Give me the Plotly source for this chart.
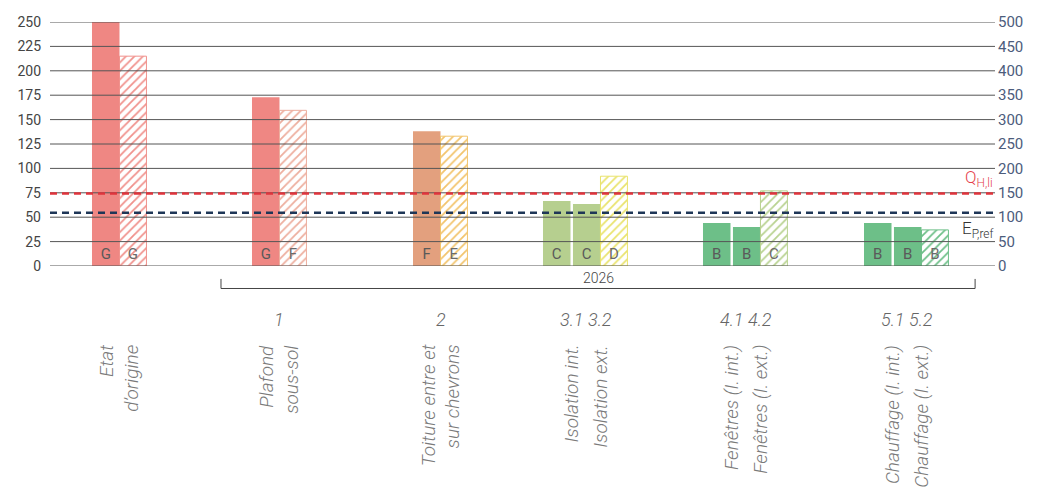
import plotly.graph_objects as go

# ---------------- data ----------------
heat_demand = [250, 173, 138, 66.5, 63.5, 44, 40, 44, 40]        # left axis, solid bars
heat_class = ["G", "G", "F", "C", "C", "B", "B", "B", "B"]
heat_group = [0, 1, 2, 3, 3, 4, 4, 5, 5]
primary_energy = [430, 319, 266, 184, 154, 74]                    # right axis, hatched bars
energy_class = ["G", "F", "E", "D", "C", "B"]
step_labels = ["", "1", "2", "3.1", "3.2", "4.1", "4.2", "5.1", "5.2"]
measure_labels = ["Etat<br>d’origine", "Plafond<br>sous-sol", "Toiture entre et<br>sur chevrons",
                  "Isolation int.", "Isolation ext.", "Fenêtres (I. int.)", "Fenêtres (I. ext.)",
                  "Chauffage (I. int.)", "Chauffage (I. ext.)"]
qh_li = 74.3      # left axis
ep_ref = 109      # right axis
left_ticks = list(range(0, 251, 25))
right_ticks = list(range(0, 501, 50))
period_label = "2026"

# ---------------- styles ----------------
heat_colors = ["#EF8783", "#EF8783", "#E3A07E", "#B6CF8F", "#B6CF8F",
               "#6DBF88", "#6DBF88", "#6DBF88", "#6DBF88"]
energy_colors = ["#F0918C", "#EDAE9E", "#F2C46C", "#E9E36C", "#B8D290", "#6DBF88"]
FONT = "Roboto, Arial, sans-serif"

# layout of groups (axis units)
group_left = [1.527, 7.345, 13.2, 17.927, 23.745, 29.6]
solid_w, hatch_w, solid_step = 1.0, 0.98, 1.09
n_groups = len(group_left)
n_solid = [heat_group.count(g) for g in range(n_groups)]

solid_x = []
counter = {}
for g in heat_group:
    k = counter.get(g, 0)
    counter[g] = k + 1
    solid_x.append(group_left[g] + k * solid_step + solid_w / 2)
hatch_left = [group_left[g] + (n_solid[g] - 1) * solid_step + solid_w for g in range(n_groups)]
hatch_x = [hl + hatch_w / 2 for hl in hatch_left]

boundaries = []
for g in range(n_groups):
    for k in range(n_solid[g]):
        if k < n_solid[g] - 1:
            boundaries.append(group_left[g] + k * solid_step + (solid_w + solid_step) / 2)
        else:
            boundaries.append(hatch_left[g])

fig = go.Figure()
fig.add_trace(go.Bar(
    x=solid_x, y=heat_demand, width=solid_w, text=heat_class,
    marker=dict(color=heat_colors, line=dict(width=0)),
    textposition="inside", insidetextanchor="start", textangle=0,
    insidetextfont=dict(family=FONT, size=15, color="#5a5a5a"),
    yaxis="y", showlegend=False, hoverinfo="skip",
))
fig.add_trace(go.Bar(
    x=hatch_x, y=primary_energy, width=hatch_w, text=energy_class,
    marker=dict(color=energy_colors, line=dict(width=1, color=energy_colors),
                pattern=dict(shape="/", size=6, solidity=0.3, fgcolor=energy_colors,
                             bgcolor="white", fillmode="replace")),
    textposition="inside", insidetextanchor="start", textangle=0,
    insidetextfont=dict(family=FONT, size=15, color="#6a6a6a"),
    yaxis="y2", showlegend=False, hoverinfo="skip",
))

shapes = []
for t in left_ticks:
    shapes.append(dict(type="line", xref="paper", x0=0, x1=1, yref="y", y0=t, y1=t,
                       line=dict(color="#555555", width=1), layer="above"))
shapes.append(dict(type="line", xref="paper", x0=0, x1=1, yref="y", y0=qh_li, y1=qh_li,
                   line=dict(color="#E0343C", width=2.5, dash="7px,5px"), layer="above"))
shapes.append(dict(type="line", xref="paper", x0=0, x1=1, yref="y2", y0=ep_ref, y1=ep_ref,
                   line=dict(color="#1E3657", width=2.5, dash="7px,5px"), layer="above"))
# period bracket
bx0 = group_left[1] - 1.127
bx1 = hatch_left[-1] + hatch_w + 0.97
shapes.append(dict(type="path", xref="x", yref="paper",
                   path=f"M {bx0},-0.053 L {bx0},-0.0922 L {bx1},-0.0922 L {bx1},-0.053",
                   line=dict(color="#444444", width=1)))

annotations = [dict(x=(bx0 + bx1) / 2, y=-0.0922, xref="x", yref="paper", text=period_label,
                    showarrow=False, xanchor="center", yanchor="bottom",
                    font=dict(family=FONT, size=14, color="#444444", weight=300))]
for bx, s in zip(boundaries, step_labels):
    if s:
        annotations.append(dict(x=bx, y=-0.221, xref="x", yref="paper", text=s, showarrow=False,
                                xanchor="center", yanchor="middle",
                                font=dict(family=FONT, size=18, color="#666666",
                                          style="italic", weight=300)))
for bx, s in zip(boundaries, measure_labels):
    annotations.append(dict(x=bx, y=-0.315, xref="x", yref="paper", text=s, showarrow=False,
                            textangle=-90, xanchor="center", yanchor="top", align="right",
                            font=dict(family=FONT, size=19, color="#7a7a7a",
                                      style="italic", weight=300)))
annotations.append(dict(x=1, y=qh_li, xref="paper", yref="y", xanchor="right", yanchor="bottom",
                        yshift=1, showarrow=False, text="Q<sub>H,li</sub>",
                        font=dict(family=FONT, size=17, color="#E5404A", weight=300)))
annotations.append(dict(x=1, y=ep_ref, xref="paper", yref="y2", xanchor="right", yanchor="top",
                        yshift=-3, showarrow=False, text="E<sub>P,ref</sub>",
                        font=dict(family=FONT, size=17, color="#333333", weight=300)))

fig.update_layout(
    width=1037, height=490,
    margin=dict(l=50, r=42, t=22, b=224),
    paper_bgcolor="white", plot_bgcolor="white",
    barmode="overlay",
    xaxis=dict(range=[0, 945 / 27.5], showgrid=False, zeroline=False, showticklabels=False,
               ticks="", showline=False, fixedrange=True),
    yaxis=dict(range=[0, 250], tickvals=left_ticks, showgrid=False, zeroline=False,
               ticks="", showline=False, ticklabelstandoff=8,
               tickfont=dict(family=FONT, size=14, color="#444444")),
    yaxis2=dict(range=[0, 500], tickvals=right_ticks, overlaying="y", side="right",
                showgrid=False, zeroline=False, ticks="", showline=False,
                ticklabelstandoff=2,
                tickfont=dict(family=FONT, size=15, color="#4C5C7C")),
    shapes=shapes, annotations=annotations,
)

fig.write_html("out.html")
